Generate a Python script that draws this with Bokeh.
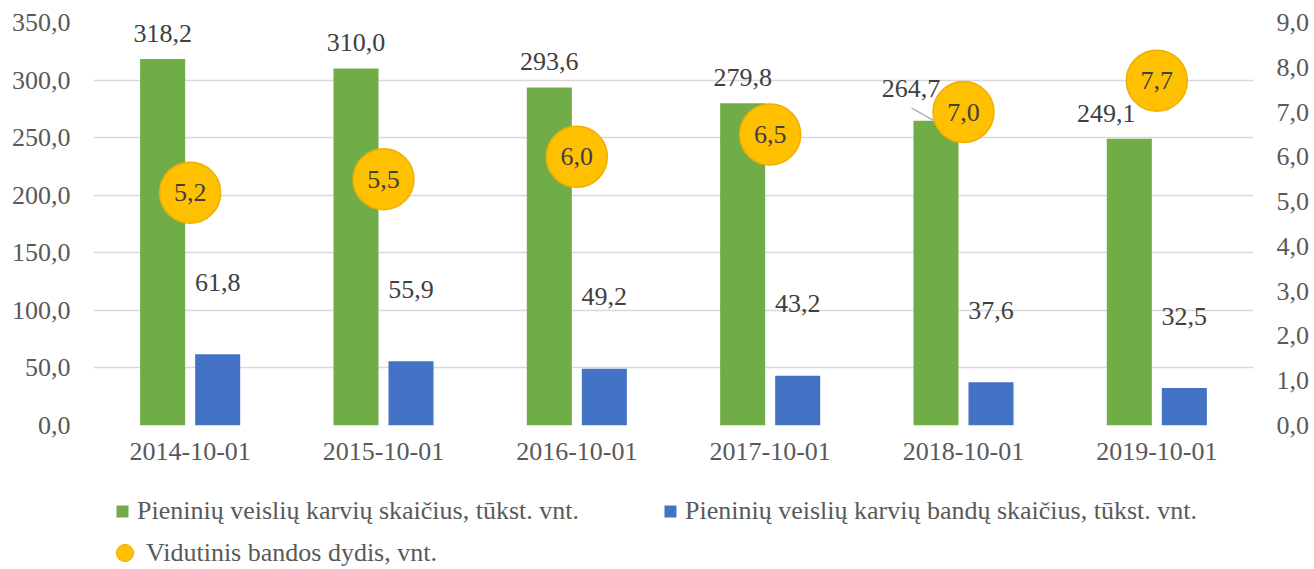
from bokeh.plotting import figure
from bokeh.layouts import column
from bokeh.models import (ColumnDataSource, FactorRange, Range1d, LinearAxis, FixedTicker,
                          CustomJSTickFormatter, Legend, LegendItem)
from bokeh.transform import dodge
from bokeh.core.properties import value
from bokeh.embed import file_html
from bokeh.resources import INLINE

# ---------------- data ----------------
dates = ["2014-10-01", "2015-10-01", "2016-10-01", "2017-10-01", "2018-10-01", "2019-10-01"]
cows = [318.2, 310.0, 293.6, 279.8, 264.7, 249.1]       # tūkst. vnt.
herds = [61.8, 55.9, 49.2, 43.2, 37.6, 32.5]            # tūkst. vnt.
avg_herd = [5.2, 5.5, 6.0, 6.5, 7.0, 7.7]               # vnt.
left_ticks = [0, 50, 100, 150, 200, 250, 300, 350]
right_ticks = [0, 1, 2, 3, 4, 5, 6, 7, 8, 9]

name_cows = "Pieninių veislių karvių skaičius, tūkst. vnt."
name_herds = "Pieninių veislių karvių bandų skaičius, tūkst. vnt."
name_avg = "Vidutinis bandos dydis, vnt."

# ---------------- style ----------------
FONT = "Liberation Serif"
FS = "26px"
GREEN = "#70AD47"
BLUE = "#4472C4"
GOLD = "#FFC000"
GOLD_EDGE = "#EDB000"
GRID = "#D9D9D9"
TXT = "#404040"
TICK_TXT = "#595959"
OFF = 0.1423
BW = 0.233
W = 1312
# label nudges (px) for the green series labels (as placed in the original)
cow_lab_dx = [0, 0, 0, 0, -25, -23]
cow_lab_dy = [-26, -26, -26, -26, -32, -25]
leader = [False, False, False, False, True, False]


def fmt(v):
    return f"{v:.1f}".replace(".", ",")


src = ColumnDataSource(dict(
    date=dates, cows=cows, herds=herds, avg=avg_herd,
    cows_lab=[fmt(v) for v in cows], herds_lab=[fmt(v) for v in herds],
    avg_lab=[fmt(v) for v in avg_herd], cdx=cow_lab_dx, cdy=cow_lab_dy,
))

lead_src = ColumnDataSource(dict(
    date=[d for d, f in zip(dates, leader) if f],
    y0=[v + 11.0 for v, f in zip(cows, leader) if f],
    y1=[v + 0.5 for v, f in zip(cows, leader) if f],
))

p = figure(x_range=FactorRange(factors=dates), y_range=Range1d(0, 350),
           width=W, height=474, output_backend="svg", toolbar_location=None,
           min_border_left=93, min_border_right=59, min_border_top=22, min_border_bottom=49)
p.extra_y_ranges = {"avg": Range1d(0, 9)}
p.outline_line_color = None
p.xgrid.grid_line_color = None
p.ygrid.grid_line_color = GRID
p.ygrid.grid_line_width = 1.3
p.ygrid.ticker = FixedTicker(ticks=left_ticks)

ya = p.yaxis[0]
ya.ticker = FixedTicker(ticks=left_ticks)
ya.formatter = CustomJSTickFormatter(code="return tick.toFixed(1).replace('.', ',');")
ya.axis_line_color = None
ya.major_tick_line_color = None
ya.minor_tick_line_color = None
ya.major_tick_out = 0
ya.major_label_standoff = 23
ya.major_label_text_font = FONT
ya.major_label_text_font_size = FS
ya.major_label_text_color = TICK_TXT

ra = LinearAxis(y_range_name="avg", ticker=FixedTicker(ticks=right_ticks),
                formatter=CustomJSTickFormatter(code="return tick.toFixed(1).replace('.', ',');"))
ra.axis_line_color = None
ra.major_tick_line_color = None
ra.minor_tick_line_color = None
ra.major_tick_out = 0
ra.major_label_standoff = 23
ra.major_label_text_font = FONT
ra.major_label_text_font_size = FS
ra.major_label_text_color = TICK_TXT
p.add_layout(ra, "right")

xa = p.xaxis[0]
xa.axis_line_color = None
xa.major_tick_line_color = None
xa.major_tick_out = 0
xa.major_label_standoff = 17
xa.major_label_text_font = FONT
xa.major_label_text_font_size = FS
xa.major_label_text_color = TICK_TXT

# bars
p.vbar(x=dodge("date", -OFF, range=p.x_range), top="cows", width=BW, source=src,
       fill_color=GREEN, line_color=None)
p.vbar(x=dodge("date", OFF, range=p.x_range), top="herds", width=BW, source=src,
       fill_color=BLUE, line_color=None)

# bar labels
p.text(x=dodge("date", -OFF, range=p.x_range), y="cows", text="cows_lab", source=src,
       x_offset="cdx", y_offset="cdy", text_align="center", text_baseline="middle",
       text_font=value(FONT), text_font_size=FS, text_color=TXT)
p.text(x=dodge("date", OFF, range=p.x_range), y="herds", text="herds_lab", source=src,
       y_offset=-72, text_align="center", text_baseline="middle",
       text_font=value(FONT), text_font_size=FS, text_color=TXT)

# leader line
p.segment(x0=dodge("date", -0.269, range=p.x_range), y0="y0",
          x1=dodge("date", -0.157, range=p.x_range), y1="y1", source=lead_src,
          line_color="#A6A6A6", line_width=1.3)

# circles (secondary axis)
p.scatter(x="date", y="avg", y_range_name="avg", source=src, marker="circle", size=61,
          fill_color=GOLD, line_color=GOLD_EDGE, line_width=1.5)
p.text(x="date", y="avg", y_range_name="avg", text="avg_lab", source=src,
       text_align="center", text_baseline="middle",
       text_font=value(FONT), text_font_size=FS, text_color=TXT)

# ---------------- legend strip ----------------
pl = figure(width=W, height=94, x_range=Range1d(0, 1), y_range=Range1d(0, 1),
            x_axis_location=None, y_axis_location=None, min_border=0,
            output_backend="svg", toolbar_location=None)
pl.outline_line_color = None
pl.grid.visible = False
nan = float("nan")
sq_g = pl.scatter(x=[nan], y=[nan], marker="square", fill_color=GREEN, line_color=None)
sq_b = pl.scatter(x=[nan], y=[nan], marker="square", fill_color=BLUE, line_color=None)
ci = pl.scatter(x=[nan], y=[nan], marker="circle", fill_color=GOLD, line_color=GOLD_EDGE,
                line_width=1)

common = dict(padding=0, margin=0, border_line_color=None, background_fill_alpha=0,
              label_text_font=FONT, label_text_font_size=FS, label_text_color=TICK_TXT)
leg1 = Legend(items=[LegendItem(label=name_cows, renderers=[sq_g]),
                     LegendItem(label=name_herds, renderers=[sq_b])],
              orientation="horizontal", location=(14, 42),
              glyph_width=30, glyph_height=30, label_standoff=0, spacing=76, **common)
leg2 = Legend(items=[LegendItem(label=name_avg, renderers=[ci])],
              orientation="horizontal", location=(10, -6),
              glyph_width=43, glyph_height=43, label_standoff=0, **common)
pl.add_layout(leg1)
pl.add_layout(leg2)

layout = column(p, pl, spacing=0)
open("out.html", "w").write(file_html(layout, INLINE))
